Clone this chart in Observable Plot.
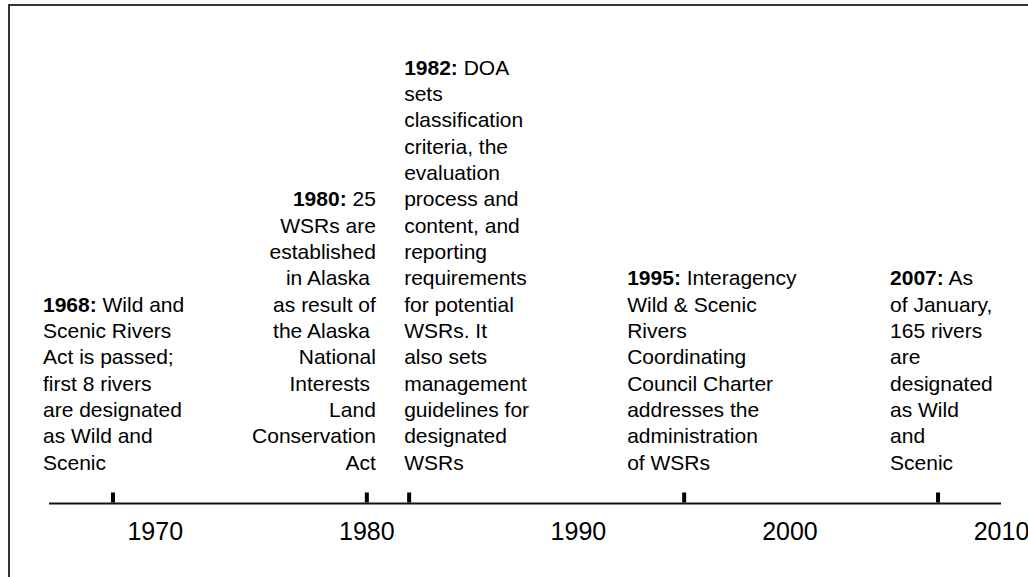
<!DOCTYPE html>
<html><head><meta charset="utf-8">
<script src="https://cdn.jsdelivr.net/npm/d3@7"></script>
<script src="https://cdn.jsdelivr.net/npm/@observablehq/plot@0.6"></script>
<style>
html,body{margin:0;padding:0;background:#fff;overflow:hidden;width:1028px;height:577px;}
#frame{position:absolute;left:8px;top:4px;width:1100px;height:700px;border:2px solid #333;box-sizing:border-box;}
#chart{position:absolute;left:0;top:0;}
</style></head><body>
<div id="frame"></div>
<div id="chart"></div>
<script>
// ---- data ----
const years = [1968, 1980, 1982, 1995, 2007];
const headings = ["1968:", "1980:", "1982:", "1995:", "2007:"];
const descriptions = [
  ["Wild and", "Scenic Rivers", "Act is passed;", "first 8 rivers", "are designated", "as Wild and", "Scenic"],
  ["25", "WSRs are", "established", "in Alaska\u00a0", "as result of", "the Alaska\u00a0", "National", "Interests\u00a0", "Land", "Conservation", "Act"],
  ["DOA", "sets", "classification", "criteria, the", "evaluation", "process and", "content, and", "reporting", "requirements", "for potential", "WSRs. It", "also sets", "management", "guidelines for", "designated", "WSRs"],
  ["Interagency", "Wild & Scenic", "Rivers", "Coordinating", "Council Charter", "addresses the", "administration", "of WSRs"],
  ["As", "of January,", "165 rivers", "are", "designated", "as Wild", "and", "Scenic"]
];
const axisTicks = [1970, 1980, 1990, 2000, 2010];
const yearDomain = [1965, 2010];

// ---- layout (placement of each note relative to its year) ----
const placement = {
  1968: {anchor: "start", dx: -70},
  1980: {anchor: "end", dx: 9},
  1982: {anchor: "start", dx: -5},
  1995: {anchor: "start", dx: -57},
  2007: {anchor: "start", dx: -48}
};

const events = years.map((y, i) => ({
  year: y,
  heading: headings[i],
  text: headings[i] + " " + descriptions[i].join("\n")
}));

const lineShape = {draw(context, l) { context.moveTo(0, 0); context.lineTo(0, -l); }};

const noteMarks = events.map(e => Plot.text([e], {
  x: "year", y: 0, text: "text",
  textAnchor: placement[e.year].anchor,
  dx: placement[e.year].dx,
  dy: -34,
  lineAnchor: "bottom",
  lineHeight: 1.253,
  fontSize: 21,
  fill: "#000",
  className: "note"
}));

const plot = Plot.plot({
  width: 1028,
  height: 577,
  marginLeft: 49,
  marginRight: 27,
  marginTop: 20,
  marginBottom: 74,
  style: {fontFamily: "'Liberation Sans', Arial, Helvetica, sans-serif", background: "transparent", overflow: "visible"},
  x: {domain: yearDomain},
  y: {domain: [0, 1], axis: null},
  marks: [
    Plot.ruleY([0], {stroke: "#111", strokeWidth: 2}),
    Plot.vector(years, {x: d => d, y: 0, length: 10, anchor: "start", rotate: 0, shape: lineShape, stroke: "#000", strokeWidth: 4, strokeLinecap: "butt", dy: -1}),
    Plot.axisX({ticks: axisTicks, tickFormat: d => String(d), tickSize: 0, tickPadding: 19, fontSize: 25, label: null, fill: "#000"}),
    ...noteMarks
  ]
});

// make the year prefix of each note bold
d3.select(plot).selectAll("text").each(function() {
  const first = this.querySelector("tspan");
  if (!first) return;
  const content = first.textContent;
  const m = content.match(/^(\d{4}:)(.*)$/);
  if (!m) return;
  first.textContent = "";
  const b = document.createElementNS("http://www.w3.org/2000/svg", "tspan");
  b.setAttribute("font-weight", "bold");
  b.textContent = m[1];
  const r = document.createElementNS("http://www.w3.org/2000/svg", "tspan");
  r.textContent = m[2];
  first.appendChild(b);
  first.appendChild(r);
});

document.getElementById("chart").appendChild(plot);
</script>
</body></html>
